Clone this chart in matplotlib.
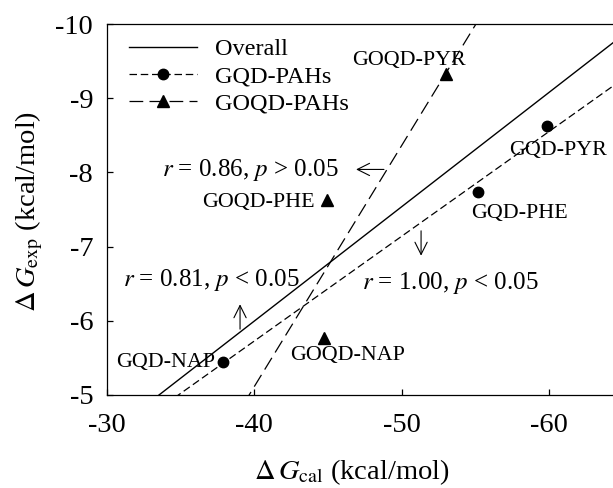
import numpy as np
import matplotlib
matplotlib.use('Agg')
import matplotlib.pyplot as plt

plt.rcParams['font.family'] = ['Liberation Serif', 'DejaVu Serif']
plt.rcParams['mathtext.fontset'] = 'stix'

# Данные: расчётная и экспериментальная энергия связывания
gqd_names = ['GQD-NAP', 'GQD-PHE', 'GQD-PYR']
gqd_cal = np.array([-37.84, -55.17, -59.85])
gqd_exp = np.array([-5.45, -7.74, -8.63])

goqd_names = ['GOQD-NAP', 'GOQD-PHE', 'GOQD-PYR']
goqd_cal = np.array([-44.73, -44.96, -53.03])
goqd_exp = np.array([-5.77, -7.63, -9.32])

stats_labels = ['$r$ = 0.86, $p$ > 0.05', '$r$ = 0.81, $p$ < 0.05', '$r$ = 1.00, $p$ < 0.05']

all_cal = np.concatenate([gqd_cal, goqd_cal])
all_exp = np.concatenate([gqd_exp, goqd_exp])

# Линейные регрессии
k_all = np.polyfit(all_cal, all_exp, 1)
k_gqd = np.polyfit(gqd_cal, gqd_exp, 1)
k_goqd = np.polyfit(goqd_cal, goqd_exp, 1)
xx = np.linspace(-25, -70, 200)

fig = plt.figure(figsize=(6.13, 4.88), dpi=100)
ax = fig.add_axes([0.1746, 0.1906, 0.8254, 0.7602])

ax.plot(xx, np.polyval(k_all, xx), 'k-', lw=1.0, label='Overall')
ax.plot(xx, np.polyval(k_gqd, xx), 'k--', lw=0.9, dashes=(6, 3),
        marker='o', ms=7.5, markevery=[], label='GQD-PAHs')
ax.plot(xx, np.polyval(k_goqd, xx), 'k--', lw=0.9, dashes=(11, 5),
        marker='^', ms=8, markevery=[], label='GOQD-PAHs')
ax.plot(gqd_cal, gqd_exp, 'ko', ms=7.5, ls='none')
ax.plot(goqd_cal, goqd_exp, 'k^', ms=8, ls='none')

# Подписи точек
lab_fs = 15.8
ax.text(-33.97, -5.44, gqd_names[0], fontsize=lab_fs, ha='center', va='center')
ax.text(-57.97, -7.45, gqd_names[1], fontsize=lab_fs, ha='center', va='center')
ax.text(-60.62, -8.30, gqd_names[2], fontsize=lab_fs, ha='center', va='center')
ax.text(-46.36, -5.53, goqd_names[0], fontsize=lab_fs, ha='center', va='center')
ax.text(-40.25, -7.60, goqd_names[1], fontsize=lab_fs, ha='center', va='center')
ax.text(-50.50, -9.51, goqd_names[2], fontsize=lab_fs, ha='center', va='center')

# Коэффициенты корреляции со стрелками
st_fs = 18
arr = dict(arrowstyle='->', lw=0.8, color='black', mutation_scale=22)
ax.text(-39.71, -8.03, stats_labels[0], fontsize=st_fs, ha='center', va='center')
ax.annotate('', xy=(-46.72, -8.04), xytext=(-48.99, -8.04), arrowprops=arr)
ax.text(-37.05, -6.55, stats_labels[1], fontsize=st_fs, ha='center', va='center')
ax.annotate('', xy=(-39.03, -6.26), xytext=(-39.03, -5.85), arrowprops=arr)
ax.text(-53.29, -6.51, stats_labels[2], fontsize=st_fs, ha='center', va='center')
ax.annotate('', xy=(-51.32, -6.84), xytext=(-51.32, -7.25), arrowprops=arr)

ax.set_xlim(-30, -64.35)
ax.set_ylim(-5, -10)
ax.set_xticks([-30, -40, -50, -60])
ax.set_yticks([-5, -6, -7, -8, -9, -10])
ax.set_xticklabels(['-30', '-40', '-50', '-60'])
ax.set_yticklabels(['-5', '-6', '-7', '-8', '-9', '-10'])
ax.tick_params(direction='in', length=4.5, width=0.9, labelsize=20.5)
ax.tick_params(axis='x', pad=13)
ax.tick_params(axis='y', pad=10)
ax.spines['right'].set_visible(False)
for s in ['left', 'bottom', 'top']:
    ax.spines[s].set_linewidth(0.9)

ax.set_xlabel(r'$\Delta\,G_{\mathrm{cal}}$ (kcal/mol)', fontsize=20.5)
ax.set_ylabel(r'$\Delta\,G_{\mathrm{exp}}$ (kcal/mol)', fontsize=20.5)
ax.xaxis.set_label_coords(0.484, -0.168)
ax.yaxis.set_label_coords(-0.1225, 0.496)

ax.legend(loc='upper left', bbox_to_anchor=(0.0435, 0.962), frameon=False,
          fontsize=17.5, handlelength=2.8, labelspacing=0.22, borderaxespad=0,
          borderpad=0, handletextpad=0.74)

plt.savefig('out.png', dpi=100)
